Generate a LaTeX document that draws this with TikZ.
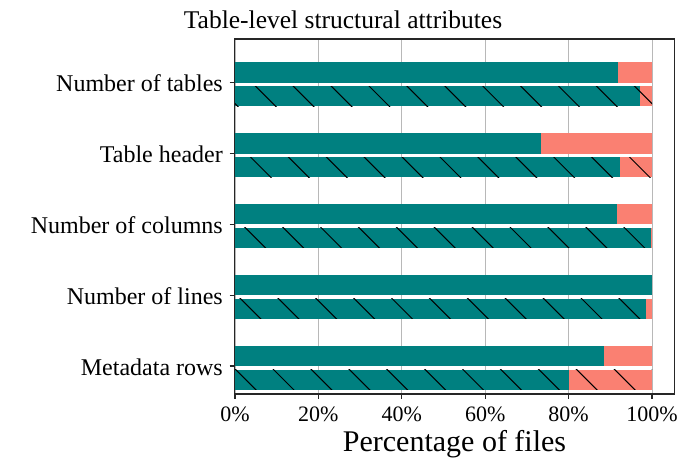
\documentclass[tikz,border=0pt]{standalone}
\usepackage{fontspec}
\setmainfont{Liberation Serif}
\usetikzlibrary{positioning}

\definecolor{barteal}{HTML}{008080}
\definecolor{barsalmon}{HTML}{FA8072}
\definecolor{gridgray}{HTML}{B8B8B8}

% one category: #1 tick y, #2 plain share, #3 hatched share (in %)
\newcommand{\barpair}[3]{%
  \fill[barsalmon] (235,{#1-20.5}) rectangle (652,{#1});
  \fill[barteal] (235,{#1-20.5}) rectangle ({235+4.17*#2},{#1});
  \fill[barsalmon] (235,{#1+3.5}) rectangle (652,{#1+23.5});
  \fill[barteal] (235,{#1+3.5}) rectangle ({235+4.17*#3},{#1+23.5});
  \begin{scope}
    \clip (235,{#1+3.5}) rectangle (652,{#1+23.5});
    \foreach \k in {-10,...,14}
      \draw[hatchline] ({169.3+37.9*\k+#1-1.5},{#1-1.5}) -- ++(30,30);
  \end{scope}}

\begin{document}
\begin{tikzpicture}[x=1pt, y=-1pt,
    gridline/.style={draw=gridgray, line width=0.9pt},
    hatchline/.style={draw=black, line width=1pt},
    frame/.style={draw=black!85, line width=1.1pt},
    tickmark/.style={draw=black!85, line width=1.1pt},
    ylab/.style={font=\fontsize{24}{26}\selectfont, anchor=base east, inner sep=0pt},
    xlab/.style={font=\fontsize{22}{24}\selectfont, anchor=base, inner sep=0pt}
]
\useasboundingbox (0,0) rectangle (692,460);
\coordinate (ll) at (234.5,394);
\coordinate (ur) at (674.5,39);

% grid
\foreach \p in {0,20,...,100}
  \draw[gridline] ({235+4.17*\p},39) -- ({235+4.17*\p},394);

% bars
\barpair{82.7}{91.9}{97.1}
\barpair{153.5}{73.3}{92.4}
\barpair{224.3}{91.5}{99.8}
\barpair{295.2}{100}{98.6}
\barpair{366}{88.5}{80.2}

% axes
\draw[frame] (ll) rectangle (ur);
\foreach \c/\nm/\txt in {82.7/tables/Number of tables, 153.5/header/Table header,
    224.3/columns/Number of columns, 295.2/lines/Number of lines, 366/meta/Metadata rows} {
  \draw[tickmark] (229.5,\c) -- (234.5,\c);
  \node[ylab] (lab-\nm) at (223,{\c+9}) {\txt};
}
\foreach \p in {0,20,...,100} {
  \draw[tickmark] ({235+4.17*\p},394) -- ({235+4.17*\p},399);
  \node[xlab] (tick-\p) at ({235+4.17*\p},421.5) {\p\%};
}

\node[font=\fontsize{25.5}{27}\selectfont, anchor=base, inner sep=0pt] (title) at (343,28.5)
  {Table-level structural attributes};
\node[font=\fontsize{30}{32}\selectfont, anchor=base, inner sep=0pt] (xtitle) at (454.5,451.5)
  {Percentage of files};
\end{tikzpicture}
\end{document}
